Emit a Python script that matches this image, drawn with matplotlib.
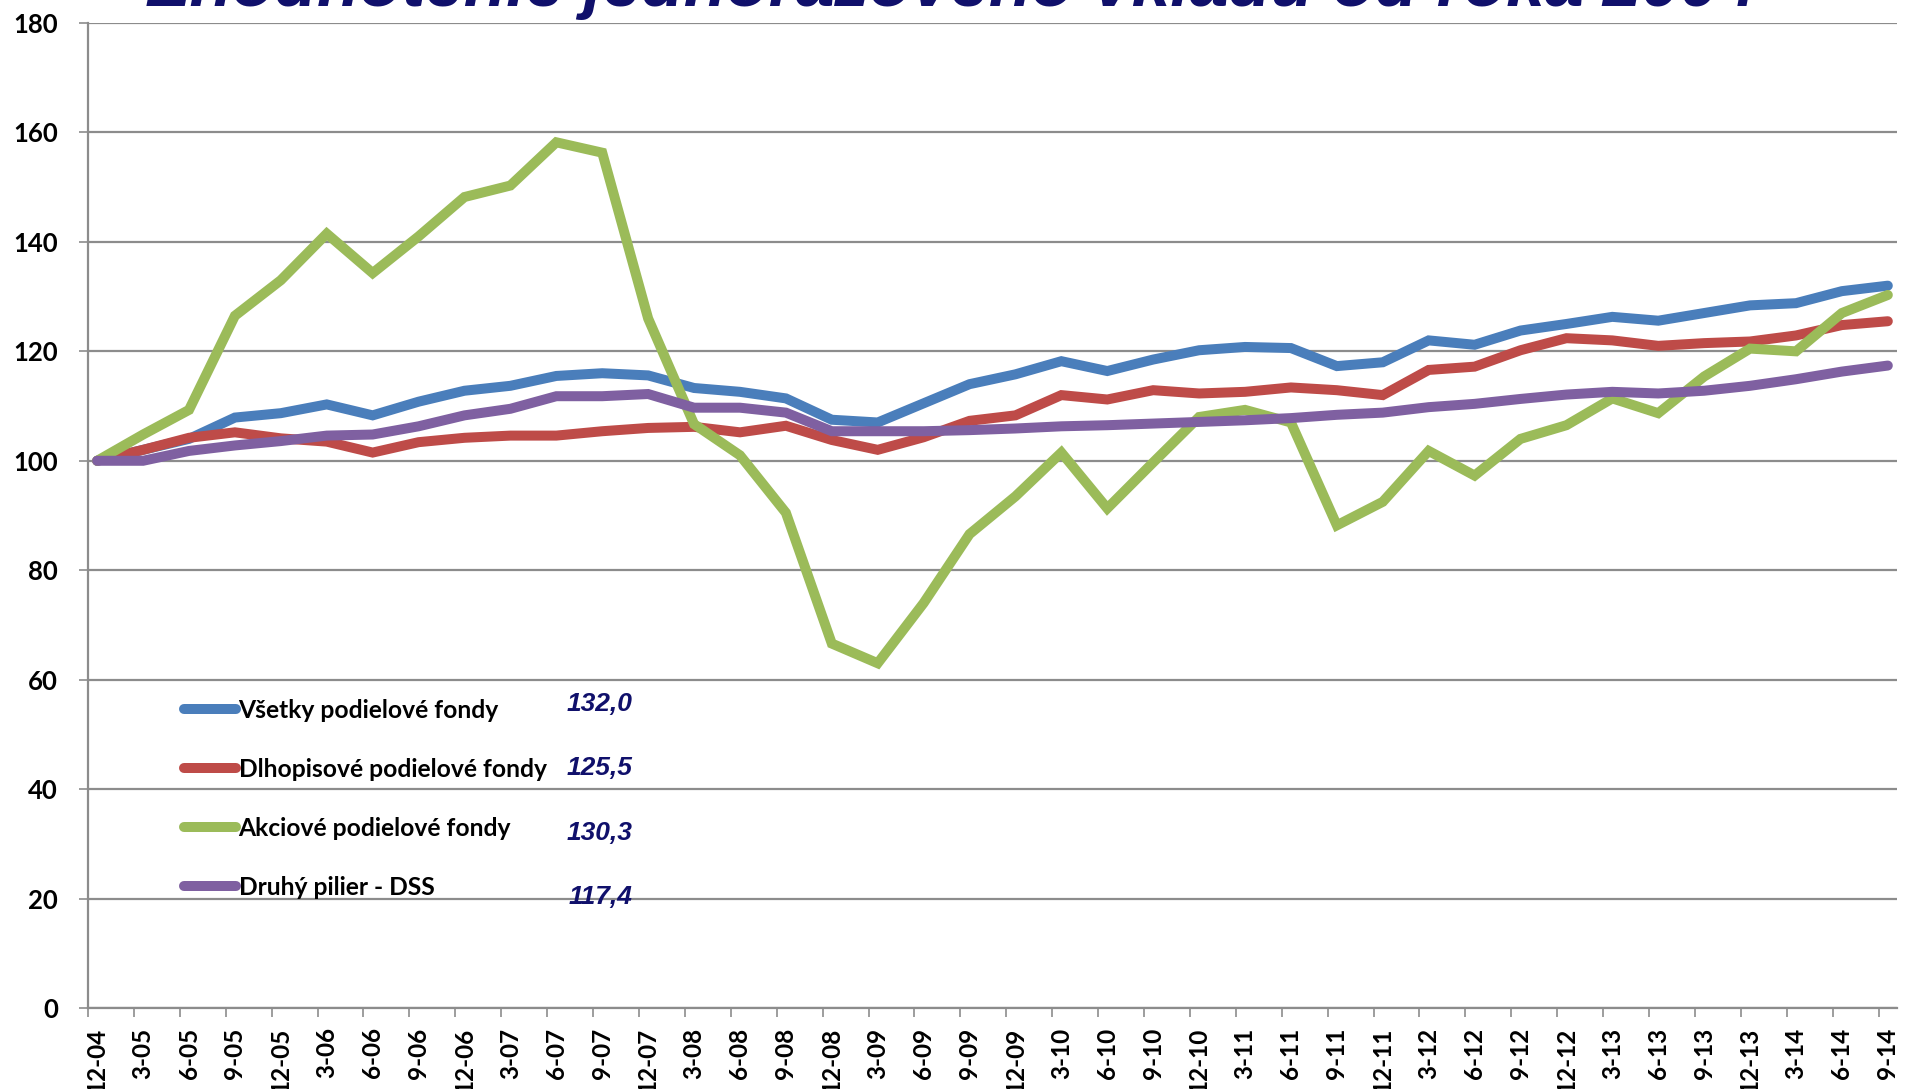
import matplotlib
matplotlib.use("Agg")
import matplotlib.pyplot as plt
from matplotlib.ticker import FixedLocator, NullFormatter

# ---------------- data ----------------
quarters = ["12-04",
            "3-05", "6-05", "9-05", "12-05",
            "3-06", "6-06", "9-06", "12-06",
            "3-07", "6-07", "9-07", "12-07",
            "3-08", "6-08", "9-08", "12-08",
            "3-09", "6-09", "9-09", "12-09",
            "3-10", "6-10", "9-10", "12-10",
            "3-11", "6-11", "9-11", "12-11",
            "3-12", "6-12", "9-12", "12-12",
            "3-13", "6-13", "9-13", "12-13",
            "3-14", "6-14", "9-14"]

vsetky = [100.0, 102.0, 104.0, 107.9, 108.7, 110.3, 108.3, 110.8, 112.8,
          113.7, 115.5, 116.0, 115.6, 113.3, 112.6, 111.4, 107.5, 107.0,
          110.5, 114.0, 115.8, 118.2, 116.4, 118.5, 120.2, 120.8, 120.6,
          117.3, 118.0, 122.0, 121.2, 123.8, 125.0, 126.3, 125.6, 127.0,
          128.4, 128.8, 131.0, 132.0]

dlhopisove = [100.0, 102.0, 104.2, 105.2, 104.1, 103.5, 101.5, 103.4, 104.2,
              104.6, 104.6, 105.4, 106.0, 106.2, 105.2, 106.4, 103.8, 102.0,
              104.3, 107.3, 108.3, 112.0, 111.2, 112.9, 112.3, 112.6, 113.4,
              112.9, 112.0, 116.6, 117.2, 120.2, 122.4, 122.0, 121.0, 121.5,
              121.8, 122.9, 124.8, 125.5]

akciove = [100.0, 104.8, 109.3, 126.5, 133.0, 141.5, 134.3, 141.0, 148.2,
           150.3, 158.2, 156.3, 126.0, 106.7, 101.0, 90.5, 66.6, 63.0,
           74.0, 86.6, 93.5, 101.5, 91.3, 99.7, 108.0, 109.3, 107.0,
           88.2, 92.5, 101.8, 97.3, 104.0, 106.5, 111.4, 108.7, 115.4,
           120.5, 120.0, 127.0, 130.3]

dss = [100.0, 100.0, 101.8, 102.8, 103.6, 104.6, 104.8, 106.3, 108.3,
       109.5, 111.8, 111.8, 112.2, 109.7, 109.7, 108.8, 105.4, 105.4,
       105.4, 105.6, 105.9, 106.3, 106.5, 106.8, 107.1, 107.4, 107.8,
       108.4, 108.8, 109.8, 110.4, 111.3, 112.1, 112.6, 112.3, 112.8,
       113.7, 114.9, 116.3, 117.4]

series_names = ["Všetky podielové fondy", "Dlhopisové podielové fondy",
                "Akciové podielové fondy", "Druhý pilier - DSS"]
series_values = [vsetky, dlhopisove, akciove, dss]
series_colors = ["#4A7EBB", "#BE4B48", "#9BBB59", "#7F60A1"]

y_ticks = [0, 20, 40, 60, 80, 100, 120, 140, 160, 180]
title = "Zhodnotenie jednorazového vkladu od roka 2004"

# ---------------- figure ----------------
W, H, DPI = 1905, 1089, 100
fig = plt.figure(figsize=(W / DPI, H / DPI), dpi=DPI)
fig.patch.set_facecolor("white")

left_px, right_px, top_px, bottom_px = 88, 1897, 23, 1008
ax = fig.add_axes([left_px / W, 1 - bottom_px / H,
                   (right_px - left_px) / W, (bottom_px - top_px) / H])

x = list(range(len(quarters)))
lines = []
for name, vals, col in zip(series_names, series_values, series_colors):
    ln, = ax.plot(x, vals, color=col, lw=7.2, solid_capstyle="round",
                  solid_joinstyle="miter", label=name, zorder=3)
    lines.append(ln)

ax.set_xlim(-0.2, len(quarters) - 1 + 0.2)
ax.set_ylim(0, 180)

grid_col = "#8C8C8C"
ax.set_yticks(y_ticks)
ax.yaxis.grid(True, color=grid_col, lw=1.6, zorder=1)
ax.tick_params(axis="y", length=6.5, width=1.2, color=grid_col, pad=15)
for lab in ax.get_yticklabels():
    lab.set_fontfamily("Lato")
    lab.set_fontweight("bold")
    lab.set_fontsize(18.5)

# tick marks between categories, labels at categories
ax.xaxis.set_major_locator(FixedLocator([i - 0.2 for i in x]))
ax.xaxis.set_major_formatter(NullFormatter())
ax.set_xticks(x, labels=quarters, minor=True)
ax.tick_params(axis="x", which="major", length=6.5, width=1.2, color=grid_col)
ax.tick_params(axis="x", which="minor", length=0, pad=14)
for lab in ax.get_xticklabels(minor=True):
    lab.set_rotation(90)
    lab.set_fontfamily("Lato")
    lab.set_fontweight("bold")
    lab.set_fontsize(17.5)

for s in ["top", "right"]:
    ax.spines[s].set_visible(False)
for s in ["left", "bottom"]:
    ax.spines[s].set_color(grid_col)
    ax.spines[s].set_linewidth(1.6)

# legend
leg = ax.legend(handles=lines, loc="upper left",
                bbox_to_anchor=(184 / W, 1 - 699 / H),
                bbox_transform=fig.transFigure, frameon=False,
                prop={"family": "Lato", "weight": "bold", "size": 17.7},
                handlelength=2.1, handletextpad=0.12, labelspacing=1.46,
                borderaxespad=0, borderpad=0)

# final values
val_y_px = [704, 768, 833, 897]
for vals, ypx in zip(series_values, val_y_px):
    txt = f"{vals[-1]:.1f}".replace(".", ",")
    fig.text(632 / W, 1 - ypx / H, txt, ha="right", va="center",
             fontfamily="Liberation Sans", fontweight="bold", style="italic",
             fontsize=19, color="#10106B")

# title (mostly cropped at the top, as in the reference)
fig.text(0.5, 1 - 6 / H, title, ha="center", va="baseline",
         fontfamily="Liberation Sans", fontweight="bold", style="italic",
         fontsize=50, color="#10106B")

fig.savefig("out.png", dpi=DPI, facecolor="white")
